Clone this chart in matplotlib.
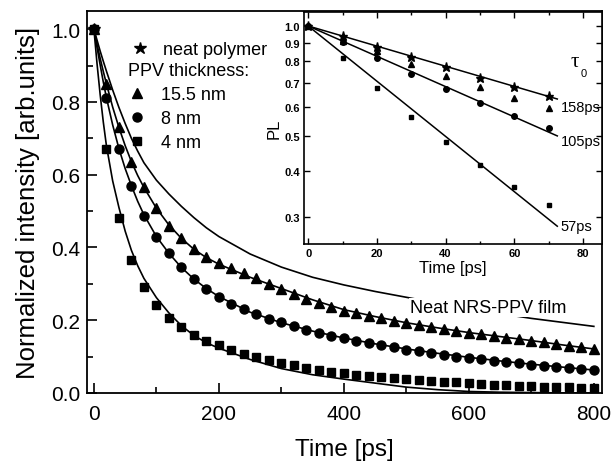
import matplotlib
matplotlib.use("Agg")
import matplotlib.pyplot as plt
from matplotlib.ticker import MultipleLocator, NullLocator, FixedLocator, FixedFormatter

plt.rcParams['font.family'] = ['Liberation Sans', 'DejaVu Sans']

# main plot: measured points every 20 ps
t_pts = [0, 20, 40, 60, 80, 100, 120, 140, 160, 180, 200, 220, 240, 260, 280,
         300, 320, 340, 360, 380, 400, 420, 440, 460, 480, 500, 520, 540, 560,
         580, 600, 620, 640, 660, 680, 700, 720, 740, 760, 780, 800]
tri_155 = [1.0, 0.85, 0.73, 0.635, 0.565, 0.508, 0.46, 0.425, 0.395, 0.374,
           0.358, 0.344, 0.33, 0.315, 0.3, 0.286, 0.272, 0.259, 0.247, 0.236,
           0.226, 0.219, 0.212, 0.205, 0.198, 0.192, 0.186, 0.18, 0.175, 0.17,
           0.166, 0.161, 0.157, 0.152, 0.147, 0.143, 0.139, 0.134, 0.13, 0.126, 0.121]
circ_8 = [1.0, 0.81, 0.67, 0.57, 0.487, 0.43, 0.385, 0.345, 0.312, 0.286,
          0.264, 0.245, 0.23, 0.216, 0.203, 0.194, 0.184, 0.174, 0.165, 0.157,
          0.15, 0.143, 0.137, 0.131, 0.125, 0.119, 0.114, 0.109, 0.105, 0.1,
          0.096, 0.092, 0.088, 0.084, 0.081, 0.078, 0.074, 0.071, 0.068, 0.065, 0.062]
sq_4 = [1.0, 0.67, 0.48, 0.365, 0.29, 0.242, 0.205, 0.18, 0.16, 0.143,
        0.133, 0.118, 0.108, 0.099, 0.09, 0.083, 0.076, 0.069, 0.063, 0.058,
        0.054, 0.05, 0.047, 0.044, 0.041, 0.038, 0.035, 0.033, 0.031, 0.029,
        0.027, 0.025, 0.023, 0.022, 0.02, 0.019, 0.017, 0.016, 0.015, 0.014, 0.013]
star_t = [0]
star_v = [1.0]

# main plot: fitted curves
t_fit = [0, 5, 10, 15, 20, 30, 40, 50, 60, 70, 80, 100, 120, 140, 160, 180,
         200, 250, 300, 350, 400, 450, 500, 550, 600, 650, 700, 750, 800]
fit_neat = [1.0, 0.97, 0.94, 0.912, 0.885, 0.833, 0.785, 0.741, 0.70, 0.665,
            0.633, 0.585, 0.547, 0.513, 0.482, 0.454, 0.43, 0.382, 0.346, 0.318,
            0.297, 0.279, 0.263, 0.247, 0.232, 0.218, 0.205, 0.194, 0.183]
fit_155 = [1.0, 0.958, 0.92, 0.884, 0.85, 0.786, 0.73, 0.68, 0.636, 0.598,
           0.565, 0.508, 0.462, 0.425, 0.395, 0.372, 0.354, 0.318, 0.287, 0.256,
           0.229, 0.21, 0.193, 0.179, 0.166, 0.155, 0.144, 0.132, 0.121]
fit_8 = [1.0, 0.95, 0.902, 0.855, 0.812, 0.737, 0.672, 0.617, 0.57, 0.527,
         0.49, 0.43, 0.384, 0.345, 0.313, 0.287, 0.265, 0.222, 0.193, 0.17,
         0.151, 0.135, 0.121, 0.109, 0.098, 0.088, 0.079, 0.071, 0.063]
fit_4 = [1.0, 0.905, 0.82, 0.745, 0.68, 0.583, 0.51, 0.445, 0.392, 0.35,
         0.315, 0.262, 0.22, 0.185, 0.158, 0.138, 0.123, 0.092, 0.067, 0.05,
         0.038, 0.027, 0.016, 0.009, 0.004, 0.002, 0.001, 0.0, 0.0]

# inset: log plot of the first 70 ps
t_in = [0, 10, 20, 30, 40, 50, 60, 70]
in_star = [1.0, 0.937, 0.874, 0.821, 0.77, 0.721, 0.679, 0.644]
in_tri = [1.0, 0.912, 0.856, 0.787, 0.731, 0.679, 0.635, 0.598]
in_circ = [1.0, 0.902, 0.816, 0.739, 0.672, 0.615, 0.566, 0.525]
in_sq = [1.0, 0.816, 0.675, 0.564, 0.482, 0.417, 0.363, 0.323]
line_t = [0, 72.5]
line_158 = [1.0, 0.631]
line_105 = [1.0, 0.50]
line_57 = [1.0, 0.283]
tau_labels = ['158ps', '105ps', '57ps']
tau_label_y = [0.60, 0.484, 0.283]
in_yticks = [0.3, 0.4, 0.5, 0.6, 0.7, 0.8, 0.9, 1.0]


fig = plt.figure(figsize=(6.13, 4.64), dpi=100)
ax = fig.add_axes([0.142, 0.151, 0.840, 0.823])

lw = 1.2
ax.plot(t_fit, fit_neat, c='k', lw=lw, zorder=2)
ax.plot(t_fit, fit_155, c='k', lw=lw, zorder=2)
ax.plot(t_fit, fit_8, c='k', lw=lw, zorder=2)
ax.plot(t_fit, fit_4, c='k', lw=lw, zorder=2)
ax.plot(star_t, star_v, ls='none', marker='*', ms=9, c='k')
ax.plot(t_pts, tri_155, ls='none', marker='^', ms=7.5, c='k')
ax.plot(t_pts, circ_8, ls='none', marker='o', ms=6.5, c='k')
ax.plot(t_pts, sq_4, ls='none', marker='s', ms=6, c='k')

ax.text(506, 0.222, 'Neat NRS-PPV film', fontsize=13, va='baseline',
        bbox=dict(fc='white', ec='none', pad=0.5), zorder=3)

ax.set_xlim(-11, 813)
ax.set_ylim(0, 1.05)
ax.xaxis.set_major_locator(MultipleLocator(200))
ax.xaxis.set_minor_locator(MultipleLocator(100))
ax.yaxis.set_major_locator(MultipleLocator(0.2))
ax.yaxis.set_minor_locator(MultipleLocator(0.1))
ax.tick_params(which='both', direction='in', labelsize=15, width=1.2)
ax.tick_params(axis='x', pad=8)
ax.tick_params(axis='y', pad=5)
ax.tick_params(which='major', length=7)
ax.tick_params(which='minor', length=4)
ax.yaxis.set_major_formatter(matplotlib.ticker.FormatStrFormatter('%.1f'))
for s in ax.spines.values():
    s.set_linewidth(1.3)
ax.set_xlabel('Time [ps]', fontsize=17.5, labelpad=11)
ax.set_ylabel('Normalized intensity [arb.units]', fontsize=18.5, labelpad=8)

h_star, = ax.plot([], [], ls='none', marker='*', ms=9, c='k')
h_tri, = ax.plot([], [], ls='none', marker='^', ms=7, c='k')
h_circ, = ax.plot([], [], ls='none', marker='o', ms=6.5, c='k')
h_sq, = ax.plot([], [], ls='none', marker='s', ms=6, c='k')
leg1 = ax.legend([h_star], ['neat polymer'], loc='upper left',
                 bbox_to_anchor=(0.085, 0.922), frameon=False, fontsize=13,
                 handlelength=1.0, handletextpad=0.8, borderpad=0, borderaxespad=0)
ax.add_artist(leg1)
leg2 = ax.legend([h_tri, h_circ, h_sq], ['15.5 nm', '8 nm', '4 nm'],
                 title='PPV thickness:', title_fontsize=13, alignment='left',
                 loc='upper left', bbox_to_anchor=(0.08, 0.867), frameon=False,
                 fontsize=13, handlelength=1.0, handletextpad=0.8,
                 labelspacing=0.39, borderpad=0, borderaxespad=0)

# inset
ins = fig.add_axes([0.496, 0.472, 0.486, 0.50])
ins.set_yscale('log')
ins.plot(line_t, line_158, c='k', lw=1.1)
ins.plot(line_t, line_105, c='k', lw=1.1)
ins.plot(line_t, line_57, c='k', lw=1.1)
ins.plot(t_in, in_star, ls='none', marker='*', ms=6.5, c='k')
ins.plot(t_in, in_tri, ls='none', marker='^', ms=4.5, c='k')
ins.plot(t_in, in_circ, ls='none', marker='o', ms=4, c='k')
ins.plot(t_in, in_sq, ls='none', marker='s', ms=3.5, c='k')
for lab, y in zip(tau_labels, tau_label_y):
    ins.text(73.5, y, lab, fontsize=10.5, va='center', ha='left')
ins.text(77.6, 0.797, 'τ', fontsize=15, family='Liberation Serif', ha='center', va='center')
ins.text(80.2, 0.745, '0', fontsize=8, ha='center', va='center')

ins.set_xlim(-1.2, 85.5)
ins.set_ylim(0.253, 1.092)
ins.xaxis.set_major_locator(MultipleLocator(20))
ins.xaxis.set_minor_locator(MultipleLocator(10))
ins.yaxis.set_major_locator(FixedLocator(in_yticks))
ins.yaxis.set_major_formatter(FixedFormatter(['%.1f' % v for v in in_yticks]))
ins.yaxis.set_minor_locator(NullLocator())
ins.tick_params(which='both', direction='in', top=True, right=True,
                labelsize=8, pad=3, width=1.0)
ins.tick_params(which='major', length=4)
ins.tick_params(which='minor', length=2.5)
for lab in ins.get_xticklabels() + ins.get_yticklabels():
    lab.set_fontweight('bold')
for s in ins.spines.values():
    s.set_linewidth(1.2)
ins.set_xlabel('Time [ps]', fontsize=12, labelpad=1)
ins.set_ylabel('PL', fontsize=12, labelpad=2)

fig.savefig('out.png', dpi=100)
